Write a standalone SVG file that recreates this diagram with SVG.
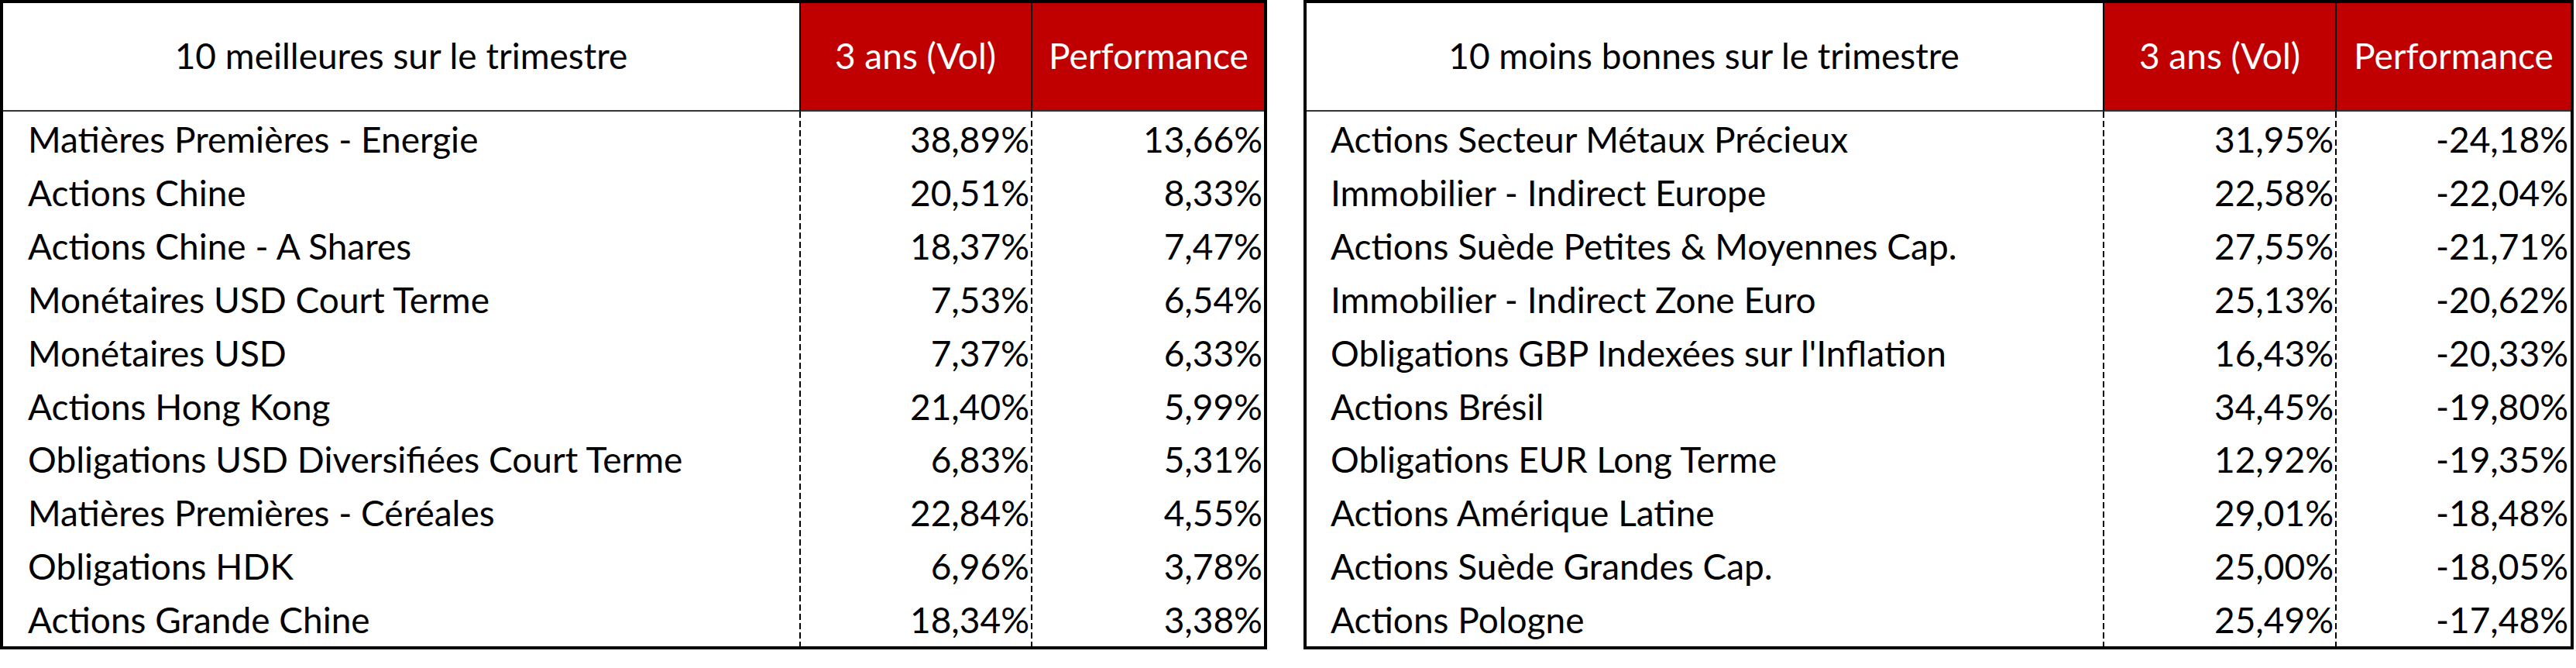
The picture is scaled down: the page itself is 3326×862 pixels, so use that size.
<svg xmlns="http://www.w3.org/2000/svg" width="3326" height="862" viewBox="0 0 3326 862">
<style>
  text { font-family: Lato, "Liberation Sans", sans-serif; font-size: 46px; fill: #000; }
  .hdr { fill: #fff; text-anchor: middle; }
  .ttl { text-anchor: middle; }
  .num { text-anchor: end; }
  .red { fill: #C00000; }
  .border { fill: none; stroke: #000; stroke-width: 4; }
  .hline { stroke: #333; stroke-width: 2; }
  .vsolid { stroke: #000; stroke-width: 2; }
  .vdash { stroke: #000; stroke-width: 2; stroke-dasharray: 8 4; }
</style>
<rect x="0" y="0" width="3326" height="862" fill="#fff"/>

<g id="table-best">
  <rect class="red" x="1033" y="2" width="601" height="141"/>
  <g id="best-header">
    <text class="ttl" x="518" y="89">10 meilleures sur le trimestre</text>
    <text class="hdr" x="1182" y="89">3 ans (Vol)</text>
    <text class="hdr" x="1483" y="89">Performance</text>
  </g>
  <g id="best-r1"><text x="36" y="197">Matières Premières - Energie</text><text class="num" x="1329" y="197">38,89%</text><text class="num" x="1630" y="197">13,66%</text></g>
  <g id="best-r2"><text x="36" y="265.9">Actions Chine</text><text class="num" x="1329" y="265.9">20,51%</text><text class="num" x="1630" y="265.9">8,33%</text></g>
  <g id="best-r3"><text x="36" y="334.8">Actions Chine - A Shares</text><text class="num" x="1329" y="334.8">18,37%</text><text class="num" x="1630" y="334.8">7,47%</text></g>
  <g id="best-r4"><text x="36" y="403.7">Monétaires USD Court Terme</text><text class="num" x="1329" y="403.7">7,53%</text><text class="num" x="1630" y="403.7">6,54%</text></g>
  <g id="best-r5"><text x="36" y="472.6">Monétaires USD</text><text class="num" x="1329" y="472.6">7,37%</text><text class="num" x="1630" y="472.6">6,33%</text></g>
  <g id="best-r6"><text x="36" y="541.5">Actions Hong Kong</text><text class="num" x="1329" y="541.5">21,40%</text><text class="num" x="1630" y="541.5">5,99%</text></g>
  <g id="best-r7"><text x="36" y="610.4">Obligations USD Diversifiées Court Terme</text><text class="num" x="1329" y="610.4">6,83%</text><text class="num" x="1630" y="610.4">5,31%</text></g>
  <g id="best-r8"><text x="36" y="679.3">Matières Premières - Céréales</text><text class="num" x="1329" y="679.3">22,84%</text><text class="num" x="1630" y="679.3">4,55%</text></g>
  <g id="best-r9"><text x="36" y="748.2">Obligations HDK</text><text class="num" x="1329" y="748.2">6,96%</text><text class="num" x="1630" y="748.2">3,78%</text></g>
  <g id="best-r10"><text x="36" y="817.1">Actions Grande Chine</text><text class="num" x="1329" y="817.1">18,34%</text><text class="num" x="1630" y="817.1">3,38%</text></g>
</g>

<g id="table-worst">
  <rect class="red" x="2716" y="2" width="605" height="141"/>
  <g id="worst-header">
    <text class="ttl" x="2200" y="89">10 moins bonnes sur le trimestre</text>
    <text class="hdr" x="2866" y="89">3 ans (Vol)</text>
    <text class="hdr" x="3168" y="89">Performance</text>
  </g>
  <g id="worst-r1"><text x="1718" y="197">Actions Secteur Métaux Précieux</text><text class="num" x="3013" y="197">31,95%</text><text class="num" x="3316" y="197">-24,18%</text></g>
  <g id="worst-r2"><text x="1718" y="265.9">Immobilier - Indirect Europe</text><text class="num" x="3013" y="265.9">22,58%</text><text class="num" x="3316" y="265.9">-22,04%</text></g>
  <g id="worst-r3"><text x="1718" y="334.8">Actions Suède Petites &amp; Moyennes Cap.</text><text class="num" x="3013" y="334.8">27,55%</text><text class="num" x="3316" y="334.8">-21,71%</text></g>
  <g id="worst-r4"><text x="1718" y="403.7">Immobilier - Indirect Zone Euro</text><text class="num" x="3013" y="403.7">25,13%</text><text class="num" x="3316" y="403.7">-20,62%</text></g>
  <g id="worst-r5"><text x="1718" y="472.6">Obligations GBP Indexées sur l'Inflation</text><text class="num" x="3013" y="472.6">16,43%</text><text class="num" x="3316" y="472.6">-20,33%</text></g>
  <g id="worst-r6"><text x="1718" y="541.5">Actions Brésil</text><text class="num" x="3013" y="541.5">34,45%</text><text class="num" x="3316" y="541.5">-19,80%</text></g>
  <g id="worst-r7"><text x="1718" y="610.4">Obligations EUR Long Terme</text><text class="num" x="3013" y="610.4">12,92%</text><text class="num" x="3316" y="610.4">-19,35%</text></g>
  <g id="worst-r8"><text x="1718" y="679.3">Actions Amérique Latine</text><text class="num" x="3013" y="679.3">29,01%</text><text class="num" x="3316" y="679.3">-18,48%</text></g>
  <g id="worst-r9"><text x="1718" y="748.2">Actions Suède Grandes Cap.</text><text class="num" x="3013" y="748.2">25,00%</text><text class="num" x="3316" y="748.2">-18,05%</text></g>
  <g id="worst-r10"><text x="1718" y="817.1">Actions Pologne</text><text class="num" x="3013" y="817.1">25,49%</text><text class="num" x="3316" y="817.1">-17,48%</text></g>
</g>

<g id="grid-lines">
  <line class="hline" x1="2" y1="143" x2="1634" y2="143"/>
  <line class="vsolid" x1="1033" y1="2" x2="1033" y2="143"/>
  <line class="vsolid" x1="1332" y1="2" x2="1332" y2="143"/>
  <line class="vdash" x1="1033" y1="144" x2="1033" y2="836"/>
  <line class="vdash" x1="1332" y1="144" x2="1332" y2="836"/>
  <rect class="border" x="2" y="2" width="1632" height="834"/>

  <line class="hline" x1="1685" y1="143" x2="3321" y2="143"/>
  <line class="vsolid" x1="2716" y1="2" x2="2716" y2="143"/>
  <line class="vsolid" x1="3016" y1="2" x2="3016" y2="143"/>
  <line class="vdash" x1="2716" y1="144" x2="2716" y2="836"/>
  <line class="vdash" x1="3016" y1="144" x2="3016" y2="836"/>
  <rect class="border" x="1685" y="2" width="1636" height="834"/>
</g>
</svg>
